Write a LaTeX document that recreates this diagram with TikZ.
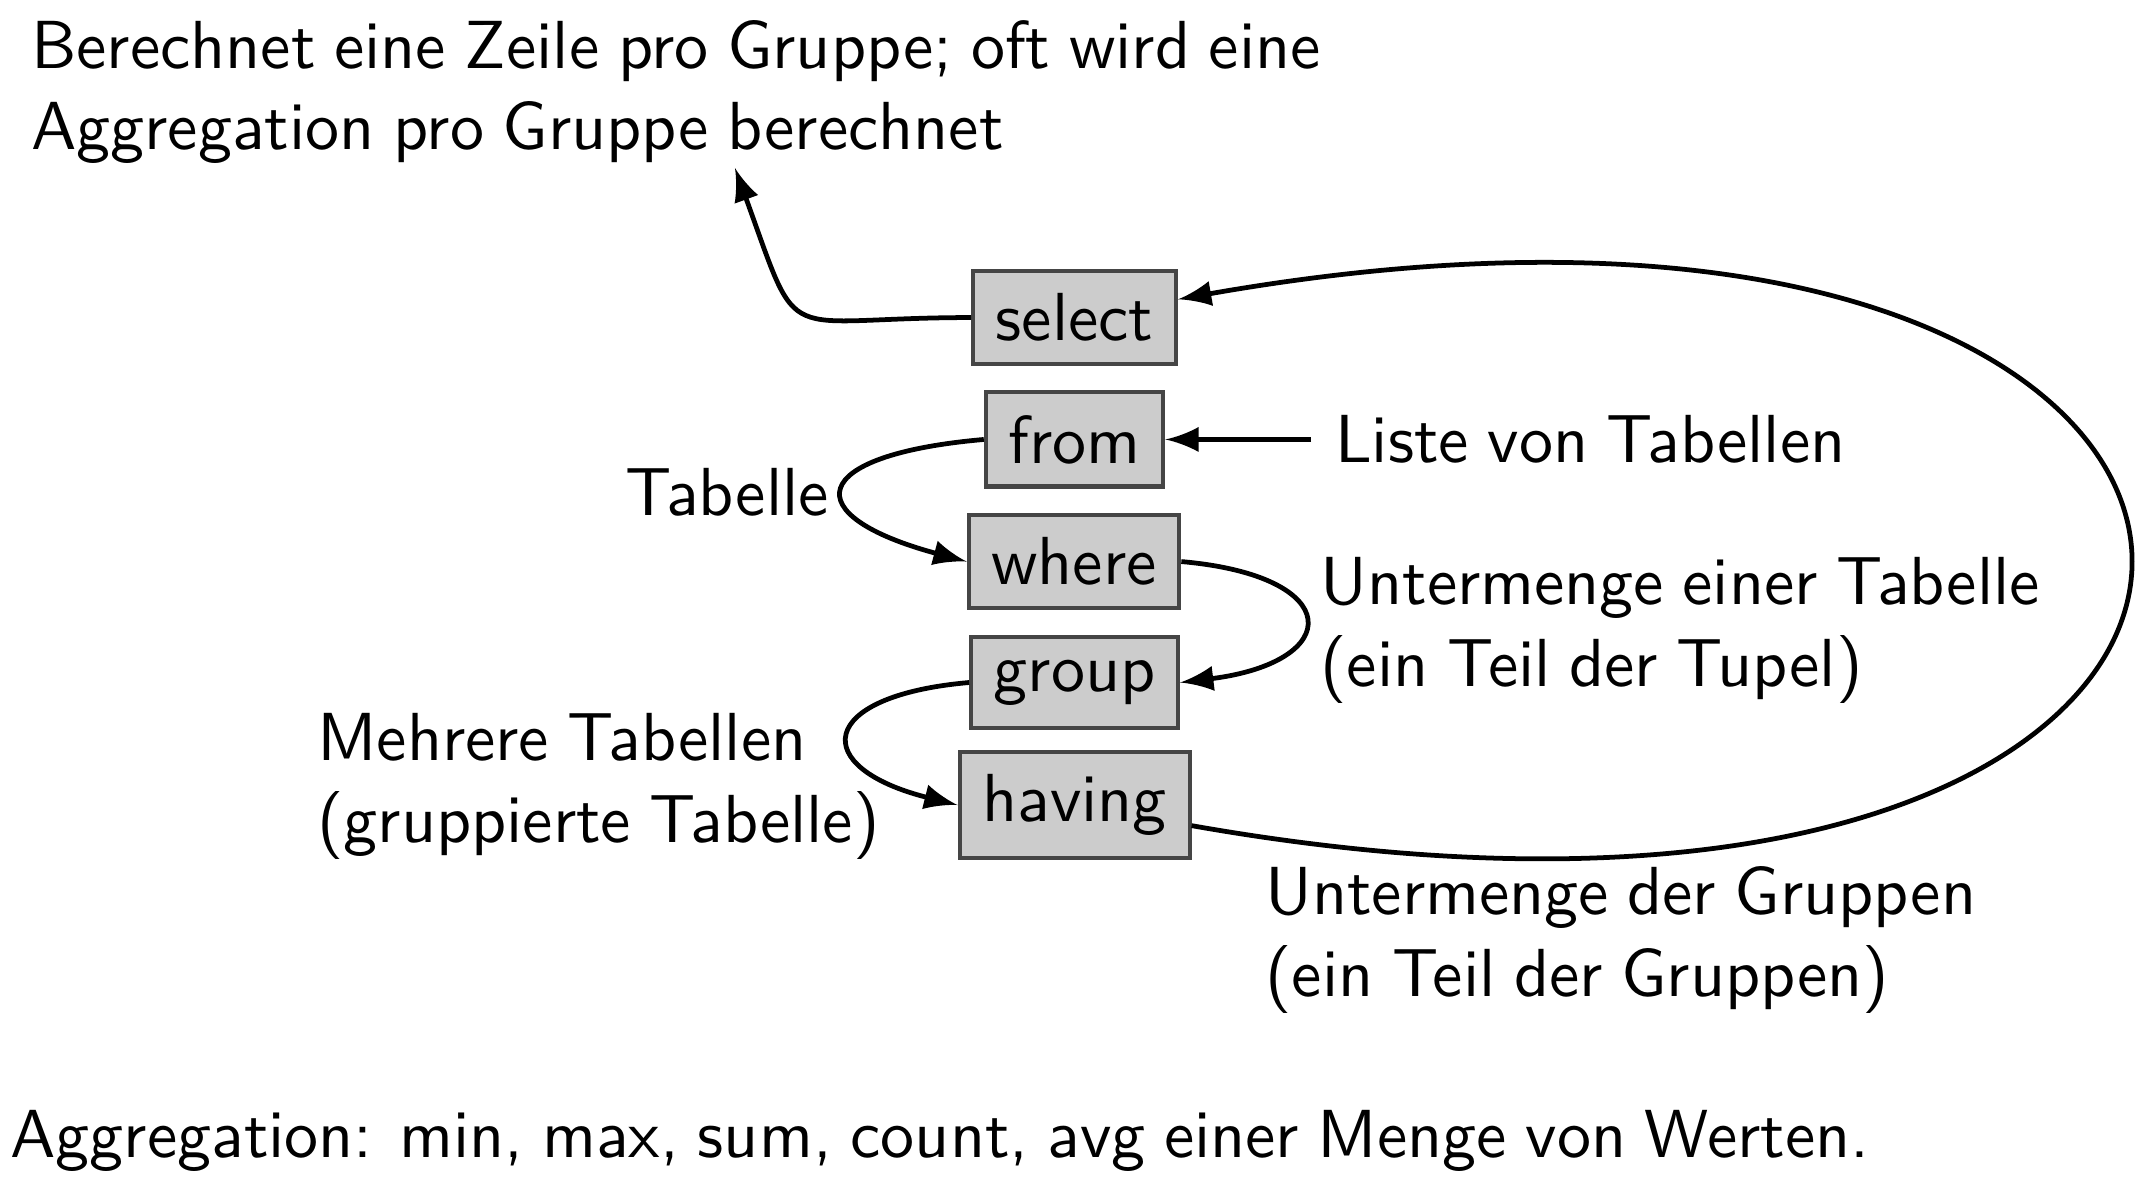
\documentclass[tikz,border=0pt]{standalone}
\usepackage{fontspec}
\usetikzlibrary{positioning}

\newcommand\engsatz{\spaceskip=2.75pt plus 1pt minus 1pt\relax}

\tikzset{
  klausel/.style={draw=black!73, fill=black!20, semithick},
  txt/.style={anchor=base west, inner sep=0pt, align=left},
  pfeil/.style={->, >=latex, line width=0.7pt}
}

\begin{document}
\begin{tikzpicture}[font=\sffamily\engsatz]
        \useasboundingbox (0,0) rectangle (11.10,-6.12);

        % base = Grundlinie der letzten Zeile
        \node[txt] (ergebnis) at(0.155,-0.775){Berechnet eine Zeile pro Gruppe; oft wird eine\\Aggregation pro Gruppe berechnet};
        \coordinate (spitze) at(3.798,-0.868);

        \node[klausel] (select) at(5.553,-1.641){select};
        \node[klausel] (from)   at(5.553,-2.271){from};
        \node[klausel] (where)  at(5.550,-2.902){where};
        \node[klausel] (group)  at(5.553,-3.527){group};
        \node[klausel] (having) at(5.553,-4.160){having};

        \node[anchor=west] (liste) at(6.775,-2.271){Liste von Tabellen};
        \node[txt] (tabelle) at(3.225,-2.662){Tabelle};
        \node[txt] (untertab) at(6.817,-3.545){Untermenge einer Tabelle\\(ein Teil der Tupel)};
        \node[txt] (mehrere) at(1.633,-4.352){Mehrere Tabellen\\(gruppierte Tabelle)};
        \node[txt] (untergr) at(6.532,-5.150){Untermenge der Gruppen\\(ein Teil der Gruppen)};

        \node[txt] (aggr) at(0.047,-5.979){Aggregation: min, max, sum, count, avg einer Menge von Werten.};

        \draw[pfeil] (select.west) to[out=180,in=-70,looseness=1.8] (spitze);
        \draw[pfeil] (liste) -- (from);
        \draw[pfeil] (from.west) to[out=185,in=165,looseness=3.7] (where.west);
        \draw[pfeil] (where.east) to[out=-5,in=7,looseness=3.5] (group.east);
        \draw[pfeil] (group.west) to[out=185,in=166,looseness=3.2] (having.west);
        \draw[pfeil] (having) to[out=-10,in=10,looseness=6.2] (select);
\end{tikzpicture}
\end{document}
